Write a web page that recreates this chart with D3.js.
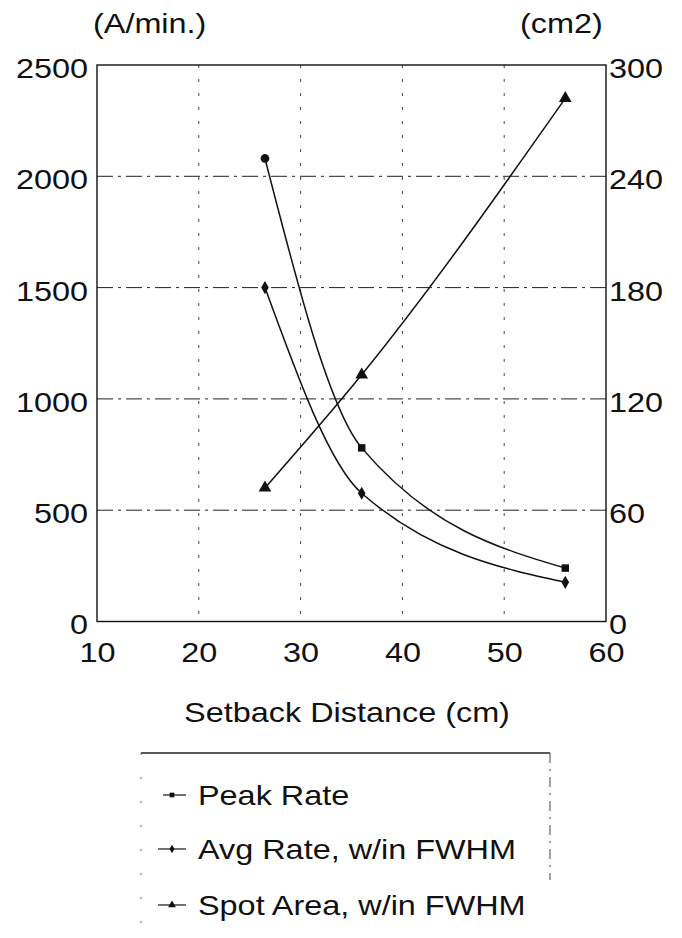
<!DOCTYPE html>
<html><head><meta charset="utf-8">
<script src="https://cdn.jsdelivr.net/npm/d3@7"></script>
<style>body{margin:0;background:#fff}svg{display:block}text{font-family:"Liberation Sans",Arial,sans-serif;fill:#111}</style>
</head><body><svg id="c" width="682" height="938"></svg>
<script>
const distance = [26.5, 36, 56];
const peakRate = [2080, 780, 240];
const avgRate = [1500, 576, 176];
const spotArea = [72, 133, 282];
const xTicks = [10, 20, 30, 40, 50, 60];
const yLeftTicks = [0, 500, 1000, 1500, 2000, 2500];
const yRightTicks = [0, 60, 120, 180, 240, 300];
const legendLabels = ["Peak Rate", "Avg Rate, w/in FWHM", "Spot Area, w/in FWHM"];

const svg = d3.select("#c");
const L = 97, R = 606, T = 65, B = 621.5;
const FS = 27, SX = 1.2;
const x = d3.scaleLinear().domain([10, 60]).range([L, R]);
const yL = d3.scaleLinear().domain([0, 2500]).range([B, T]);
const yR = d3.scaleLinear().domain([0, 300]).range([B, T]);

function txt(g, s, px, py, anchor) {
  return g.append("text").attr("transform", `translate(${px},${py}) scale(${SX},1)`)
    .attr("text-anchor", anchor || "start").attr("font-size", FS).text(s);
}

// gridlines
svg.append("g").selectAll("line").data(yLeftTicks.slice(1, -1)).join("line")
  .attr("x1", L).attr("x2", R).attr("y1", d => yL(d)).attr("y2", d => yL(d))
  .attr("stroke", "#222").attr("stroke-width", 1).attr("stroke-dasharray", "16,5,3,5");
svg.append("g").selectAll("line").data(xTicks.slice(1, -1)).join("line")
  .attr("x1", d => x(d)).attr("x2", d => x(d)).attr("y1", T).attr("y2", B)
  .attr("stroke", "#444").attr("stroke-width", 1).attr("stroke-dasharray", "3,11");

// frame
svg.append("rect").attr("x", L).attr("y", T).attr("width", R - L).attr("height", B - T)
  .attr("fill", "none").attr("stroke", "#111").attr("stroke-width", 1.4);

// axes
function styleAxis(g, anchor, xoff, dy) {
  g.select(".domain").remove();
  g.selectAll(".tick line").remove();
  g.selectAll(".tick text").attr("font-size", FS).attr("font-family", null)
    .attr("x", xoff).attr("dy", dy).attr("text-anchor", anchor)
    .attr("transform", `scale(${SX},1)`).attr("fill", "#111");
}
svg.append("g").attr("transform", `translate(${L},0)`)
  .call(d3.axisLeft(yL).tickValues(yLeftTicks).tickFormat(d3.format("d")).tickSize(0))
  .call(g => styleAxis(g, "end", -7.5, "0.46em"));
svg.append("g").attr("transform", `translate(${R},0)`)
  .call(d3.axisRight(yR).tickValues(yRightTicks).tickFormat(d3.format("d")).tickSize(0))
  .call(g => styleAxis(g, "start", 2.5, "0.46em"));
svg.append("g").attr("transform", `translate(0,${B})`)
  .call(d3.axisBottom(x).tickValues(xTicks).tickFormat(d3.format("d")).tickSize(0))
  .call(g => { g.select(".domain").remove(); g.selectAll(".tick line").remove();
    g.selectAll(".tick text").attr("font-size", FS).attr("font-family", null)
      .attr("y", 40.5).attr("dy", 0).attr("transform", `scale(${SX},1)`).attr("fill", "#111"); });

// axis titles
txt(svg, "(A/min.)", 93, 33);
txt(svg, "(cm2)", 520, 33);
txt(svg, "Setback Distance (cm)", 347, 722, "middle");

// lines
const curve = d3.curveMonotoneX;
const lineL = d3.line().x(d => x(d[0])).y(d => yL(d[1])).curve(curve);
const lineR = d3.line().x(d => x(d[0])).y(d => yR(d[1])).curve(curve);
const peakPts = distance.map((d, i) => [d, peakRate[i]]);
const avgPts = distance.map((d, i) => [d, avgRate[i]]);
const spotPts = distance.map((d, i) => [d, spotArea[i]]);
const gl = svg.append("g").attr("fill", "none").attr("stroke", "#111").attr("stroke-width", 1.5);
gl.append("path").attr("d", lineL(peakPts));
gl.append("path").attr("d", lineL(avgPts));
gl.append("path").attr("d", lineR(spotPts));

// markers
const sq = d3.symbol().type(d3.symbolSquare).size(56);
const circ = d3.symbol().type(d3.symbolCircle).size(60);
const dia = d3.symbol().type(d3.symbolDiamond).size(50);
const tri = d3.symbol().type(d3.symbolTriangle).size(70);
svg.append("g").selectAll("path").data(peakPts).join("path")
  .attr("transform", d => `translate(${x(d[0])},${yL(d[1])})`)
  .attr("d", (d, i) => i === 0 ? circ() : sq()).attr("fill", "#111");
svg.append("g").selectAll("path").data(avgPts).join("path")
  .attr("transform", d => `translate(${x(d[0])},${yL(d[1])})`)
  .attr("d", dia()).attr("fill", "#111");
svg.append("g").selectAll("path").data(spotPts).join("path")
  .attr("transform", d => `translate(${x(d[0])},${yR(d[1])})`)
  .attr("d", tri()).attr("fill", "#111");

// legend
const lg = svg.append("g");
lg.append("line").attr("x1", 141).attr("x2", 550).attr("y1", 753).attr("y2", 753)
  .attr("stroke", "#222").attr("stroke-width", 1.4);
lg.append("line").attr("x1", 550).attr("x2", 550).attr("y1", 753).attr("y2", 880)
  .attr("stroke", "#444").attr("stroke-width", 1).attr("stroke-dasharray", "10,6,2,6");
lg.append("line").attr("x1", 141).attr("x2", 141).attr("y1", 753).attr("y2", 938)
  .attr("stroke", "#666").attr("stroke-width", 1).attr("stroke-dasharray", "2,22");
const legendSyms = [sq.size(22), dia.size(22), tri.size(26)];
const rowY = [795, 849, 905];
legendLabels.forEach((lab, i) => {
  lg.append("line").attr("x1", i === 0 ? 163 : 158).attr("x2", 186).attr("y1", rowY[i]).attr("y2", rowY[i])
    .attr("stroke", "#111").attr("stroke-width", 1.2);
  lg.append("path").attr("transform", `translate(172,${rowY[i]})`).attr("d", legendSyms[i]()).attr("fill", "#111");
  txt(lg, lab, 198, rowY[i] + 9.5);
});
</script></body></html>
